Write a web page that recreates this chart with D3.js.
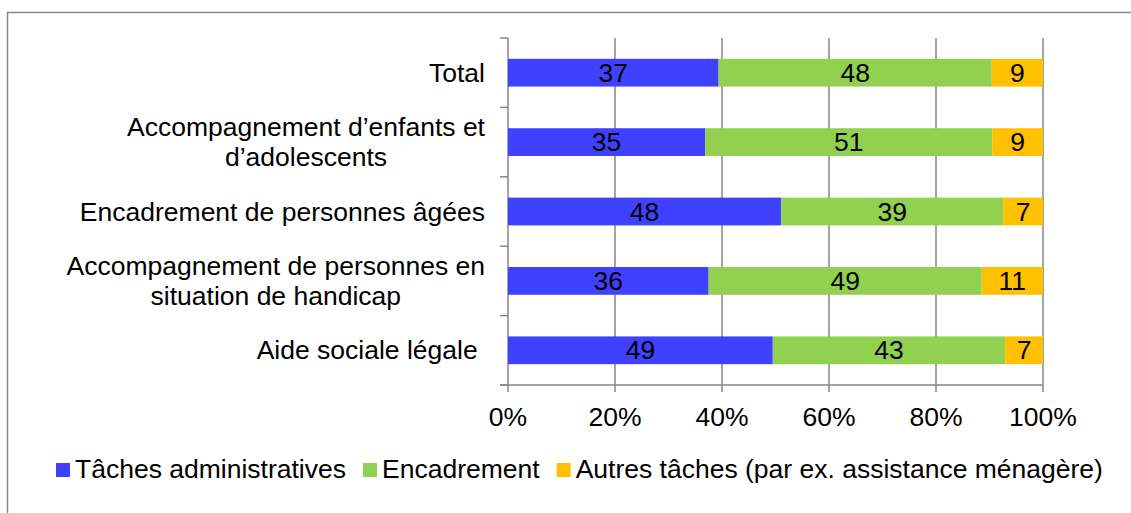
<!DOCTYPE html>
<html>
<head>
<meta charset="utf-8">
<script src="https://cdn.jsdelivr.net/npm/d3@7"></script>
<style>
	body { margin: 0; background: #fff; }
	text { font-family: "Liberation Sans", Arial, sans-serif; fill: #000; }
</style>
</head>
<body>
<svg id="chart" width="1131" height="513"></svg>
<script>
// categories, top to bottom (\n = line break in the label)
var categories = [
	"Total",
	"Accompagnement d\u2019enfants et\nd\u2019adolescents",
	"Encadrement de personnes âgées",
	"Accompagnement de personnes en\nsituation de handicap",
	"Aide sociale légale "
];
var seriesNames = ["Tâches administratives", "Encadrement", "Autres tâches (par ex. assistance ménagère)"];
var seriesColors = ["#4040ff", "#92d050", "#ffc000"];
var admin = [37, 35, 48, 36, 49];
var encadrement = [48, 51, 39, 49, 43];
var autres = [9, 9, 7, 11, 7];
var tickLabels = ["0%", "20%", "40%", "60%", "80%", "100%"];

var svg = d3.select("#chart"),
	width = +svg.attr("width"),
	height = +svg.attr("height");

var fontSize = 26.5;
var gridColor = "#868686";

// outer frame (runs off the right and bottom edges like the original)
svg.append("rect")
	.attr("x", 7.5).attr("y", 12.5)
	.attr("width", 1140).attr("height", 520)
	.attr("fill", "none")
	.attr("stroke", gridColor)
	.attr("stroke-width", 1.5);

var pLeft = 508, pRight = 1043, pTop = 38, pBottom = 385;

var x = d3.scaleLinear().domain([0, 1]).range([pLeft, pRight]);
var y = d3.scaleBand().domain(categories).range([pTop, pBottom])
	.paddingInner(0.6).paddingOuter(0.3);

// rows as shares of the row total (100% stacked)
var rows = categories.map((c, i) => {
	var vals = [admin[i], encadrement[i], autres[i]];
	var sum = d3.sum(vals);
	var acc = 0;
	return vals.map((v, k) => {
		var seg = {cat: c, value: v, k: k, x0: acc / sum, x1: (acc + v) / sum};
		acc += v;
		return seg;
	});
});

// vertical gridlines
svg.append("g")
	.selectAll("line")
	.data(x.ticks(5))
	.enter().append("line")
		.attr("x1", d => x(d)).attr("x2", d => x(d))
		.attr("y1", pTop).attr("y2", pBottom + 7)
		.attr("stroke", gridColor)
		.attr("stroke-width", 1.5);

// category axis: ticks at band boundaries
var step = y.step();
var bounds = d3.range(categories.length + 1).map(i => pTop + i * step);
svg.append("g")
	.selectAll("line")
	.data(bounds)
	.enter().append("line")
		.attr("x1", pLeft - 8).attr("x2", pLeft)
		.attr("y1", d => d).attr("y2", d => d)
		.attr("stroke", gridColor)
		.attr("stroke-width", 1.5);

// bottom axis line
svg.append("line")
	.attr("x1", pLeft - 8).attr("x2", pRight)
	.attr("y1", pBottom).attr("y2", pBottom)
	.attr("stroke", gridColor)
	.attr("stroke-width", 1.5);

// bars
var bars = svg.append("g");
rows.forEach(row => {
	bars.selectAll(null)
		.data(row)
		.enter().append("rect")
			.attr("x", d => x(d.x0))
			.attr("width", d => x(d.x1) - x(d.x0))
			.attr("y", d => y(d.cat))
			.attr("height", y.bandwidth())
			.attr("fill", d => seriesColors[d.k]);
	bars.selectAll(null)
		.data(row)
		.enter().append("text")
			.attr("x", d => (x(d.x0) + x(d.x1)) / 2)
			.attr("y", d => y(d.cat) + y.bandwidth() / 2 + 9)
			.attr("text-anchor", "middle")
			.attr("font-size", fontSize)
			.text(d => d.value);
});

// x tick labels
svg.append("g")
	.selectAll("text")
	.data(x.ticks(5))
	.enter().append("text")
		.attr("x", d => x(d))
		.attr("y", 426)
		.attr("text-anchor", "middle")
		.attr("font-size", fontSize)
		.text((d, i) => tickLabels[i]);

// category labels: centred lines, block right-aligned at the axis
var labelRight = 485, lineH = 30;
categories.forEach(c => {
	var lines = c.split("\n");
	var g = svg.append("g");
	var cy = y(c) + y.bandwidth() / 2;
	var t = g.selectAll("text")
		.data(lines)
		.enter().append("text")
			.attr("font-size", fontSize)
			.attr("text-anchor", "middle")
			.style("white-space", "pre")
			.attr("y", (d, i) => cy + 9 + (i - (lines.length - 1) / 2) * lineH)
			.text(d => d);
	var maxW = d3.max(t.nodes(), n => n.getComputedTextLength());
	t.attr("x", labelRight - maxW / 2);
});

// legend
var lg = svg.append("g");
var lx = 56;
seriesNames.forEach((s, i) => {
	lg.append("rect")
		.attr("x", lx).attr("y", 463)
		.attr("width", 14).attr("height", 14)
		.attr("fill", seriesColors[i]);
	var t = lg.append("text")
		.attr("x", lx + 19).attr("y", 478)
		.attr("font-size", fontSize)
		.text(s);
	lx += 19 + t.node().getComputedTextLength() + 17;
});
</script>
</body>
</html>
